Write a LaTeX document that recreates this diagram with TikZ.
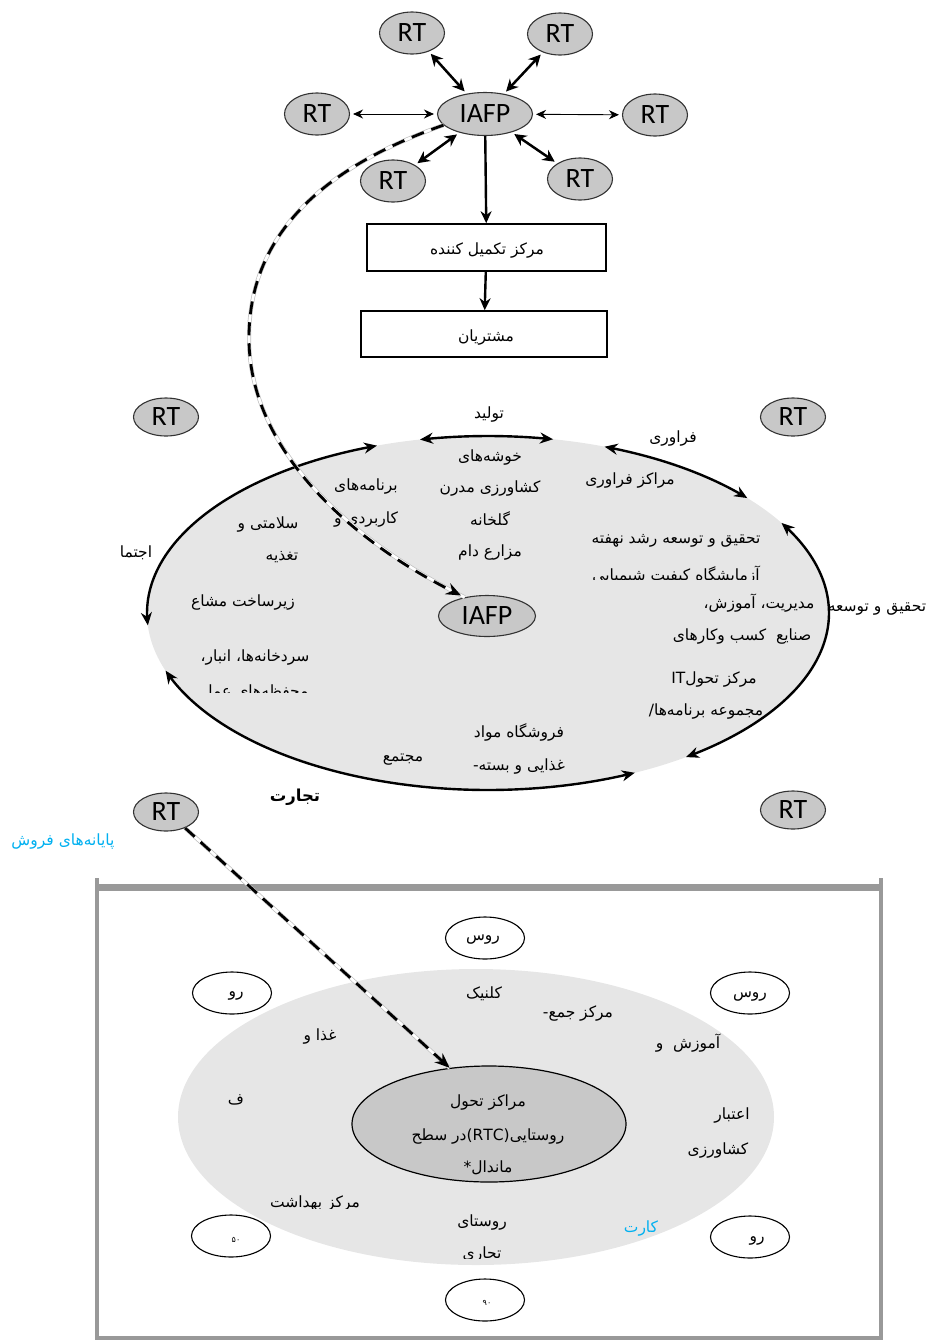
\documentclass[tikz,border=0pt]{standalone}
\usepackage{fontspec}
\usetikzlibrary{shapes.geometric,arrows.meta}
\TeXXeTstate=1
\newfontfamily\farsifont[Script=Arabic]{DejaVu Sans}
\newfontfamily\latinfont{Carlito}
\newcommand{\fatxt}[1]{{\farsifont\beginR #1\endR}}
\definecolor{nodegray}{HTML}{C8C8C8}
\definecolor{coregray}{HTML}{E6E6E6}
\definecolor{framegray}{HTML}{999999}
\definecolor{labelblue}{HTML}{00B0F0}
\begin{document}
\begin{tikzpicture}[x=1pt,y=-1pt,
  rt/.style={ellipse, draw=black!80, line width=1.1pt, fill=nodegray,
    minimum width=65pt, minimum height=42pt, inner sep=0pt,
    font=\latinfont\fontsize{28}{28}\selectfont},
  hub/.style={rt, minimum width=95pt, minimum height=43pt},
  village/.style={ellipse, draw=black, line width=1.1pt, fill=white,
    minimum width=79pt, minimum height=42pt, inner sep=0pt},
  stagebox/.style={draw, line width=1.6pt, inner sep=0pt},
  fa/.style={inner sep=0pt, font=\farsifont\fontsize{15.5}{18}\selectfont},
  twoway/.style={{Stealth[length=12pt,width=12pt]}-{Stealth[length=12pt,width=12pt]},
    line width=2.5pt, shorten >=3pt, shorten <=3pt},
  twowaythin/.style={{Stealth[length=10pt,width=9pt]}-{Stealth[length=10pt,width=9pt]},
    line width=0.9pt, shorten >=3pt, shorten <=3pt},
  flow/.style={-{Stealth[length=12pt,width=11pt]}, line width=2.4pt},
  ring/.style={{Stealth[length=13pt,width=11pt]}-{Stealth[length=13pt,width=11pt]},
    line width=2.4pt},
  linkback/.style={line width=4pt, draw=black!25},
  linkwhite/.style={line width=2.6pt, draw=white},
  linkdash/.style={line width=2.8pt, dash pattern=on 13pt off 8pt,
    -{Stealth[length=15pt,width=12pt]}},
]
\useasboundingbox (0,0) rectangle (929,1342);

% ---------- top: IAFP hub with RT partners ----------
\node[hub] (iafp) at (485,114) {IAFP};
\node[rt] (rta) at (412,33) {RT};
\node[rt] (rtb) at (560,34) {RT};
\node[rt] (rtc) at (317,114) {RT};
\node[rt] (rtd) at (655,115) {RT};
\node[rt] (rte) at (393,181) {RT};
\node[rt] (rtf) at (580,179) {RT};
\draw[twoway] (rta) -- (iafp);
\draw[twoway] (rtb) -- (iafp);
\draw[twowaythin] (rtc) -- (iafp);
\draw[twowaythin] (rtd) -- (iafp);
\draw[twoway] (rte) -- (iafp);
\draw[twoway] (rtf) -- (iafp);

\node[stagebox, minimum width=239pt, minimum height=47pt] (complete) at (486.5,247.5) {};
\node[fa] (completetxt) at (487,250) {\fatxt{مرکز تکمیل کننده}};
\node[stagebox, minimum width=246pt, minimum height=46pt] (customers) at (484,334) {};
\node[fa] (customerstxt) at (486,337) {\fatxt{مشتریان}};
\draw[flow] (iafp) -- (complete);
\draw[flow] (complete) -- (customers);

% ---------- middle: value-chain ring ----------
\node[ellipse, fill=coregray, minimum width=682pt, minimum height=354pt] (core) at (488,613) {};
\draw[ring, domain=109:184, samples=60, variable=\t]
  plot ({488+341*cos(\t)}, {613-177*sin(\t)});
\draw[ring, domain=199:295.5, samples=80, variable=\t]
  plot ({488+341*cos(\t)}, {613-177*sin(\t)});
\draw[ring, domain=305.5:390.6, samples=80, variable=\t]
  plot ({488+341*cos(\t)}, {613-177*sin(\t)});
\draw[ring, domain=40.5:70, samples=40, variable=\t]
  plot ({488+341*cos(\t)}, {613-177*sin(\t)});
\draw[ring, domain=79:101.5, samples=30, variable=\t]
  plot ({488+341*cos(\t)}, {613-177*sin(\t)});

\node[hub, minimum width=97pt, minimum height=41pt] (iafpb) at (487,616) {IAFP};
\node[rt, minimum height=38pt] (rtg) at (166,417) {RT};
\node[rt, minimum height=38pt] (rth) at (793,417) {RT};
\node[rt, minimum height=38pt] (rti) at (166,812) {RT};
\node[rt, minimum height=38pt] (rtj) at (793,810) {RT};

% labels on the ring
\node[fa] (lprod) at (489,414) {\fatxt{تولید}};
\node[fa] (lproc) at (673,438) {\fatxt{فراوری}};
\node[fa] (lrd) at (877,609) {\fatxt{تحقیق و توسعه}};
\node[fa] (lsoc) at (136,553) {\fatxt{اجتما}};
\node[fa, font=\farsifont\bfseries\fontsize{16.5}{19}\selectfont] (ltrade) at (295,797) {\fatxt{تجارت}};
\node[fa] (lcomplex) at (403,760) {\fatxt{مجتمع}};

% contents of the ring
\node[fa] (c1) at (490,457) {\fatxt{خوشه‌های}};
\node[fa] (c2) at (490,488) {\fatxt{کشاورزی مدرن}};
\node[fa] (c3) at (490,519) {\fatxt{گلخانه}};
\node[fa] (c4) at (490,552) {\fatxt{مزارع دام}};
\node[fa] (c5) at (366,486) {\fatxt{برنامه‌های}};
\node[fa] (c6) at (366,519) {\fatxt{کاربردی و}};
\node[fa] (c7) at (268,524) {\fatxt{سلامتی و}};
\node[fa] (c8) at (282,557) {\fatxt{تغذیه}};
\node[fa] (c9) at (243,602) {\fatxt{زیرساخت مشاع}};
\node[fa] (c10) at (255,657) {\fatxt{سردخانه‌ها، انبار،}};
\begin{scope}
  \clip (150,670) rectangle (400,692);
  \node[fa] (c11) at (255,692) {\fatxt{محفظه‌های عمل}};
\end{scope}
\node[fa] (c12) at (630,480) {\fatxt{مراکز فراوری}};
\node[fa] (c13) at (676,541) {\fatxt{تحقیق و توسعه رشد نهفته}};
\begin{scope}
  \clip (560,555) rectangle (800,579);
  \node[fa] (c14) at (676,575) {\fatxt{آزمایشگاه کیفیت شیمیایی}};
\end{scope}
\node[fa] (c15) at (759,603) {\fatxt{مدیریت، آموزش،}};
\node[fa] (c16) at (742,636) {\fatxt{صنایع\ \ کسب وکارهای}};
\node[fa] (c17) at (714,679) {\fatxt{مرکز تحول\beginL IT\endL}};
\node[fa] (c18) at (706,711) {\fatxt{مجموعه برنامه‌ها/}};
\node[fa] (c19) at (519,732) {\fatxt{فروشگاه مواد}};
\node[fa] (c20) at (519,766) {\fatxt{غذایی و بسته-}};

\node[fa, text=labelblue] (lpos) at (63,841) {\fatxt{پایانه‌های فروش}};

% dashed link from the hub into the ring
\path (iafp.195) .. controls (330,165) and (248,230) .. (249,340)
  coordinate (bend);
\draw[linkback] (iafp.195) .. controls (330,165) and (248,230) .. (bend)
  .. controls (250,450) and (350,540) .. (iafpb.140);
\draw[linkwhite] (iafp.195) .. controls (330,165) and (248,230) .. (bend)
  .. controls (250,450) and (350,540) .. (iafpb.140);
\draw[linkdash, shorten >=4pt] (iafp.195) .. controls (330,165) and (248,230) .. (bend)
  .. controls (250,450) and (350,540) .. (iafpb.140);

% ---------- bottom: rural transformation centre ----------
\draw[framegray, line width=4pt] (97,878) -- (97,1338) -- (881,1338) -- (881,878);
\draw[framegray, line width=7pt] (95,887) -- (883,887);

\node[ellipse, fill=coregray, minimum width=596pt, minimum height=296pt] (village) at (476,1117) {};
\node[ellipse, draw=black, line width=1.2pt, fill=nodegray,
  minimum width=274pt, minimum height=116pt] (rtcentre) at (489,1124) {};
\node[fa] (r1) at (488,1102) {\fatxt{مراکز تحول}};
\node[fa] (r2) at (488,1136) {\fatxt{روستایی(\beginL RTC\endL)در سطح}};
\node[fa] (r3) at (488,1168) {\fatxt{ماندال*}};

\node[village] (va) at (485,938) {};
\node[fa] (vatxt) at (483,940) {\fatxt{روس}};
\node[village] (vb) at (232,993) {};
\node[fa] (vbtxt) at (236,996) {\fatxt{رو}};
\node[village] (vc) at (750,993) {};
\node[fa] (vctxt) at (750,997) {\fatxt{روس}};
\node[village] (vd) at (231,1236) {};
\node[fa, font=\farsifont\fontsize{8}{9}\selectfont] (vdtxt) at (236,1240) {\fatxt{۵۰}};
\node[village] (ve) at (485,1300) {};
\node[fa, font=\farsifont\fontsize{8}{9}\selectfont] (vetxt) at (487,1303) {\fatxt{۹۰}};
\node[village] (vf) at (750,1237) {};
\node[fa] (vftxt) at (757,1241) {\fatxt{رو}};

\node[fa] (s1) at (484,994) {\fatxt{کلنیک}};
\node[fa] (s2) at (578,1013) {\fatxt{مرکز جمع-}};
\node[fa] (s3) at (320,1036) {\fatxt{غذا و}};
\node[fa] (s4) at (688,1043) {\fatxt{آموزش\ \ و}};
\node[fa] (s5) at (236,1100) {\fatxt{ف}};
\node[fa] (s6) at (732,1115) {\fatxt{اعتبار}};
\node[fa] (s7) at (718,1150) {\fatxt{کشاورزی}};
\begin{scope}
  \clip (240,1185) rectangle (400,1208);
  \node[fa] (s8) at (315,1203) {\fatxt{مرکز بهداشت}};
\end{scope}
\node[fa] (s9) at (482,1222) {\fatxt{روستای}};
\begin{scope}
  \clip (430,1238) rectangle (540,1258);
  \node[fa] (s10) at (482,1254) {\fatxt{تجاری}};
\end{scope}
\node[fa, text=labelblue] (s11) at (641,1228) {\fatxt{کارت}};

% dashed link from the point of sale into the centre
\draw[linkback] (rti.-40) -- (rtcentre.125);
\draw[linkwhite] (rti.-40) -- (rtcentre.125);
\draw[linkdash] (rti.-40) -- (rtcentre.125);
\end{tikzpicture}
\end{document}
